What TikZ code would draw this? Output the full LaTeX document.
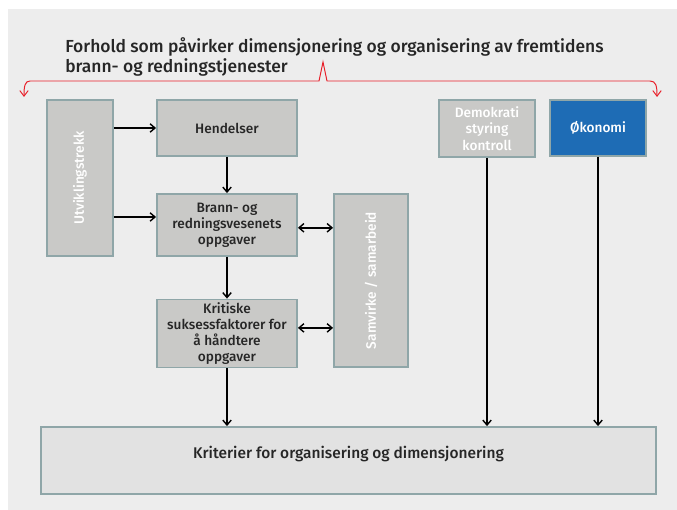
\documentclass[tikz,border=0pt]{standalone}
\usepackage{fontspec}
\setmainfont{Fira Sans}[BoldFont={Fira Sans Medium}]
\definecolor{bggray}{RGB}{237,237,237}
\definecolor{boxgray}{RGB}{201,201,199}
\definecolor{rimgray}{RGB}{143,166,168}
\definecolor{oblue}{RGB}{30,108,181}
\definecolor{lightbox}{RGB}{226,226,226}
\definecolor{bracered}{RGB}{232,32,42}
\colorlet{ink}{black!85}
\usetikzlibrary{arrows.meta, positioning}

\begin{document}
\begin{tikzpicture}[x=0.025cm, y=-0.025cm,
    boks/.style={fill=boxgray, draw=rimgray, line width=1.3pt, align=center,
      inner sep=2pt, text=ink, font=\fontsize{9.7}{11.5}\selectfont\bfseries},
    hvitboks/.style={boks, text=white},
    pil/.style={-{Straight Barb[length=3.5pt, width=6pt]}, line width=1pt, black},
    dobbelpil/.style={{Straight Barb[length=3.5pt, width=6pt]}-{Straight Barb[length=3.5pt, width=6pt]}, line width=1pt, black},
    klamme/.style={{Straight Barb[length=4pt, width=6pt]}-{Straight Barb[length=4pt, width=6pt]}, bracered, line width=0.7pt},
  ]
    \useasboundingbox (0,0) rectangle (677,510);
    \fill[bggray] (8,9) rectangle (677,510);

    % overskrift med klamme
    \node[anchor=north west, align=left, inner sep=0pt, text=ink,
      font=\fontsize{12.4}{14.5}\selectfont\bfseries] (tittel) at (65,37)
      {Forhold som påvirker dimensjonering og organisering av fremtidens\\brann- og redningstjenester};
    \coordinate (venstre) at (24,97);
    \coordinate (hoyre) at (657,97);
    \coordinate (topp) at (323,62);
    \draw[klamme] (venstre) .. controls (24,86) and (25,81) .. (30,81) -- (319,81) -- (topp)
      -- (327,81) -- (650,81) .. controls (656,81) and (657,86) .. (hoyre);

    % bokser
    \node[hvitboks, rotate=90, minimum width=3.9cm, minimum height=1.65cm] (utv) at (80,178) {Utviklingstrekk};
    \node[boks, minimum width=3.5cm, minimum height=1.4cm] (hend) at (227,128) {Hendelser};
    \node[boks, minimum width=3.5cm, minimum height=1.55cm] (brann) at (227,225) {Brann- og\\redningsvesenets\\oppgaver};
    \node[boks, minimum width=3.5cm, minimum height=1.675cm] (krit) at (227,333.5) {Kritiske\\suksessfaktorer for\\å håndtere\\oppgaver};
    \node[hvitboks, rotate=90, minimum width=4.325cm, minimum height=1.85cm] (samv) at (371,280.5) {Samvirke / samarbeid};
    \node[hvitboks, minimum width=2.4cm, minimum height=1.425cm] (demo) at (487,128.5) {Demokrati\\styring\\kontroll};
    \node[hvitboks, fill=oblue, minimum width=2.4cm, minimum height=1.4cm] (okon) at (598,128) {Økonomi};
    \node[boks, fill=lightbox, minimum width=15.375cm, minimum height=1.675cm, text depth=0.4cm,
      font=\fontsize{11}{13}\selectfont\bfseries] (kriterier) at (348.5,460.5) {Kriterier for organisering og dimensjonering};

    % piler
    \draw[pil] (utv.south |- hend.west) -- (hend.west);
    \draw[pil] ([yshift=0.2cm]utv.south |- brann.west) -- ([yshift=0.2cm]brann.west);
    \draw[pil] (hend) -- (brann);
    \draw[pil] (brann) -- (krit);
    \draw[dobbelpil] ([yshift=-0.07cm]brann.east) -- ([yshift=-0.07cm]brann.east -| samv.north);
    \draw[dobbelpil] ([yshift=0.14cm]krit.east) -- ([yshift=0.14cm]krit.east -| samv.north);
    \draw[pil] (krit.south) -- (krit.south |- kriterier.north);
    \draw[pil] (demo.south) -- (demo.south |- kriterier.north);
    \draw[pil] (okon.south) -- (okon.south |- kriterier.north);
  \end{tikzpicture}
\end{document}
